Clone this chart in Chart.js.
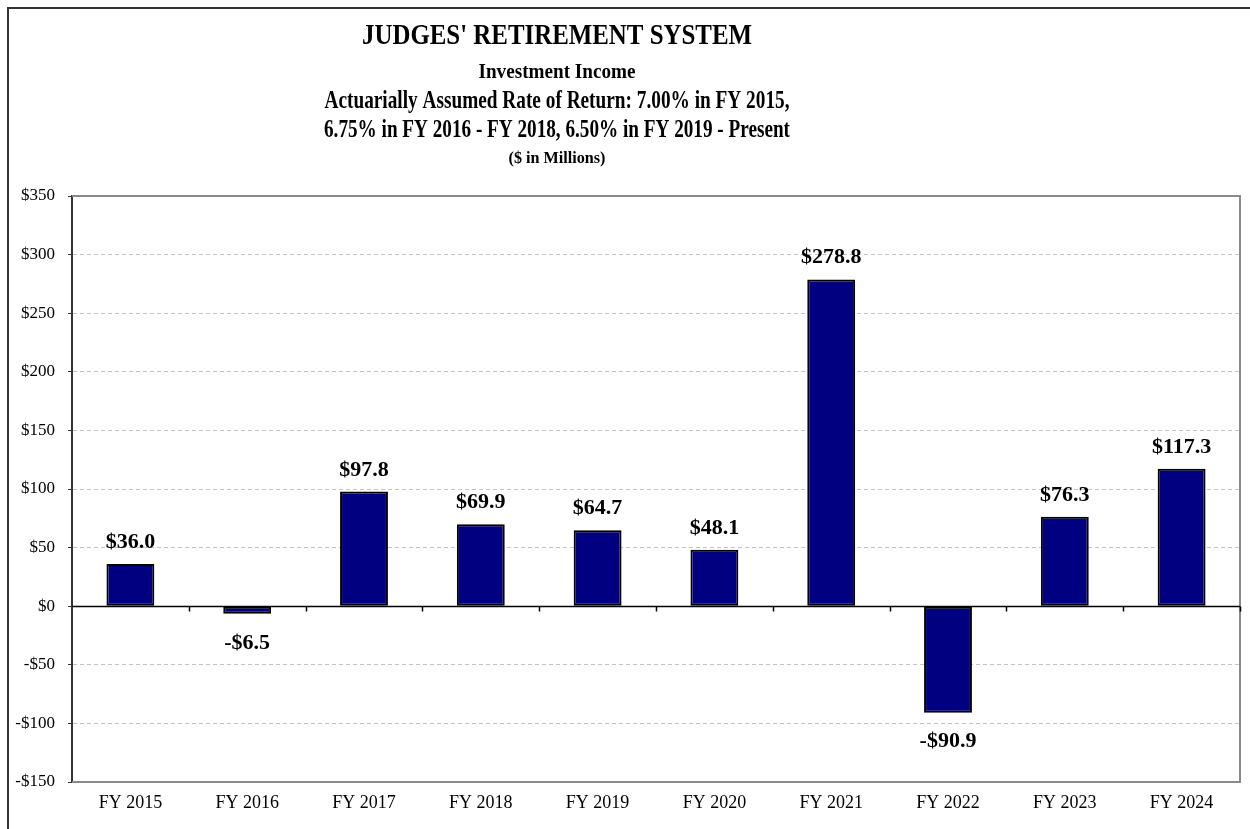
<!DOCTYPE html>
<html>
<head>
<meta charset="utf-8">
<title>Judges' Retirement System - Investment Income</title>
<script src="https://cdn.jsdelivr.net/npm/chart.js@4/dist/chart.umd.min.js"></script>
<style>
  html, body { margin: 0; padding: 0; background: #fff; }
  canvas { display: block; }
</style>
</head>
<body>
<canvas id="barChart" width="1250" height="829"></canvas>
<script>
const fiscalYears = ["FY 2015", "FY 2016", "FY 2017", "FY 2018", "FY 2019", "FY 2020", "FY 2021", "FY 2022", "FY 2023", "FY 2024"];
const investmentIncome = [36.0, -6.5, 97.8, 69.9, 64.7, 48.1, 278.8, -90.9, 76.3, 117.3];
const yTicks = [-150, -100, -50, 0, 50, 100, 150, 200, 250, 300, 350];

const titleLines = [
  "JUDGES' RETIREMENT SYSTEM",
  "Investment Income",
  "Actuarially Assumed Rate of Return: 7.00% in FY 2015,",
  "6.75% in FY 2016 - FY 2018, 6.50% in FY 2019 - Present",
  "($ in Millions)"
];

function money(v) {
  return (v < 0 ? "-$" : "$") + Math.abs(v);
}

// title block, frame, zero line and value labels
const decor = {
  id: "decor",
  beforeDatasetsDraw(chart) {
    const ctx = chart.ctx;
    const a = chart.chartArea;
    const x = chart.scales.x, y = chart.scales.y;
    ctx.save();
    // outer frame (left + top)
    ctx.strokeStyle = "#333";
    ctx.lineWidth = 2;
    ctx.beginPath();
    ctx.moveTo(8, 829); ctx.lineTo(8, 8); ctx.lineTo(1250, 8);
    ctx.stroke();
    // plot frame
    ctx.strokeStyle = "#8a8a8a";
    ctx.lineWidth = 2;
    ctx.beginPath();
    ctx.moveTo(a.left, a.top); ctx.lineTo(a.right, a.top);
    ctx.lineTo(a.right, a.bottom); ctx.lineTo(a.left, a.bottom);
    ctx.stroke();
    // zero line + category ticks
    const zy = Math.round(y.getPixelForValue(0)) + 0.5;
    ctx.strokeStyle = "#000";
    ctx.lineWidth = 1.5;
    ctx.beginPath();
    ctx.moveTo(a.left, zy); ctx.lineTo(a.right, zy);
    for (let i = 1; i <= fiscalYears.length; i++) {
      let bx = i < fiscalYears.length ? (x.getPixelForValue(i - 1) + x.getPixelForValue(i)) / 2 : a.right;
      bx = Math.round(bx) + 0.5;
      ctx.moveTo(bx, zy); ctx.lineTo(bx, zy + 5);
    }
    ctx.stroke();
    // titles
    const cx = 557;
    const specs = [
      { size: 30, base: 44, w: 390 },
      { size: 20, base: 78, w: 157 },
      { size: 25, base: 108, w: 465 },
      { size: 25, base: 137, w: 466 },
      { size: 17, base: 163, w: 97 }
    ];
    ctx.fillStyle = "#000";
    ctx.textAlign = "center";
    ctx.textBaseline = "alphabetic";
    titleLines.forEach((t, i) => {
      const s = specs[i];
      ctx.font = "bold " + s.size + "px 'Liberation Serif', 'Times New Roman', serif";
      ctx.fillText(t, cx, s.base, s.w);
    });
    ctx.restore();
  },
  afterDatasetsDraw(chart) {
    const ctx = chart.ctx;
    const meta = chart.getDatasetMeta(0);
    ctx.save();
    ctx.fillStyle = "#000";
    ctx.textAlign = "center";
    ctx.font = "bold 22px 'Liberation Serif', 'Times New Roman', serif";
    meta.data.forEach((bar, i) => {
      const v = investmentIncome[i];
      const txt = (v < 0 ? "-$" : "$") + Math.abs(v).toFixed(1);
      if (v >= 0) {
        ctx.textBaseline = "alphabetic";
        ctx.fillText(txt, bar.x, bar.y - 16);
      } else {
        ctx.textBaseline = "top";
        ctx.fillText(txt, bar.x, bar.y + 18);
      }
    });
    ctx.restore();
  }
};

new Chart(document.getElementById("barChart"), {
  type: "bar",
  data: {
    labels: fiscalYears,
    datasets: [{
      label: "Investment Income",
      data: investmentIncome,
      backgroundColor: "#000080",
      borderColor: "#000",
      borderWidth: 2,
      borderSkipped: false,
      barPercentage: 0.41,
      categoryPercentage: 1
    }]
  },
  options: {
    responsive: false,
    animation: false,
    devicePixelRatio: 1,
    layout: { padding: { top: 196, right: 10, left: 0, bottom: 0 } },
    plugins: {
      legend: { display: false },
      title: { display: false },
      tooltip: { enabled: false }
    },
    scales: {
      x: {
        grid: { display: false },
        border: { display: false },
        ticks: {
          color: "#000",
          padding: 2,
          maxRotation: 0,
          font: { family: "'Liberation Serif', 'Times New Roman', serif", size: 18 }
        },
        afterFit(s) { s.height = 47; }
      },
      y: {
        min: yTicks[0],
        max: yTicks[yTicks.length - 1],
        afterBuildTicks(s) { s.ticks = yTicks.map(v => ({ value: v })); },
        grid: {
          color: ctx => (ctx.tick && (ctx.tick.value === 0 || ctx.tick.value === 350 || ctx.tick.value === -150)) ? "rgba(0,0,0,0)" : "#c4c4c4",
          lineWidth: 1,
          tickLength: 4,
          tickColor: "#333"
        },
        border: { display: true, color: "#333", width: 2, dash: [4, 3] },
        ticks: {
          color: "#000",
          padding: 13,
          callback: v => money(v),
          font: { family: "'Liberation Serif', 'Times New Roman', serif", size: 17 }
        },
        afterFit(s) { s.width = 72; }
      }
    }
  },
  plugins: [decor]
});
</script>
</body>
</html>
